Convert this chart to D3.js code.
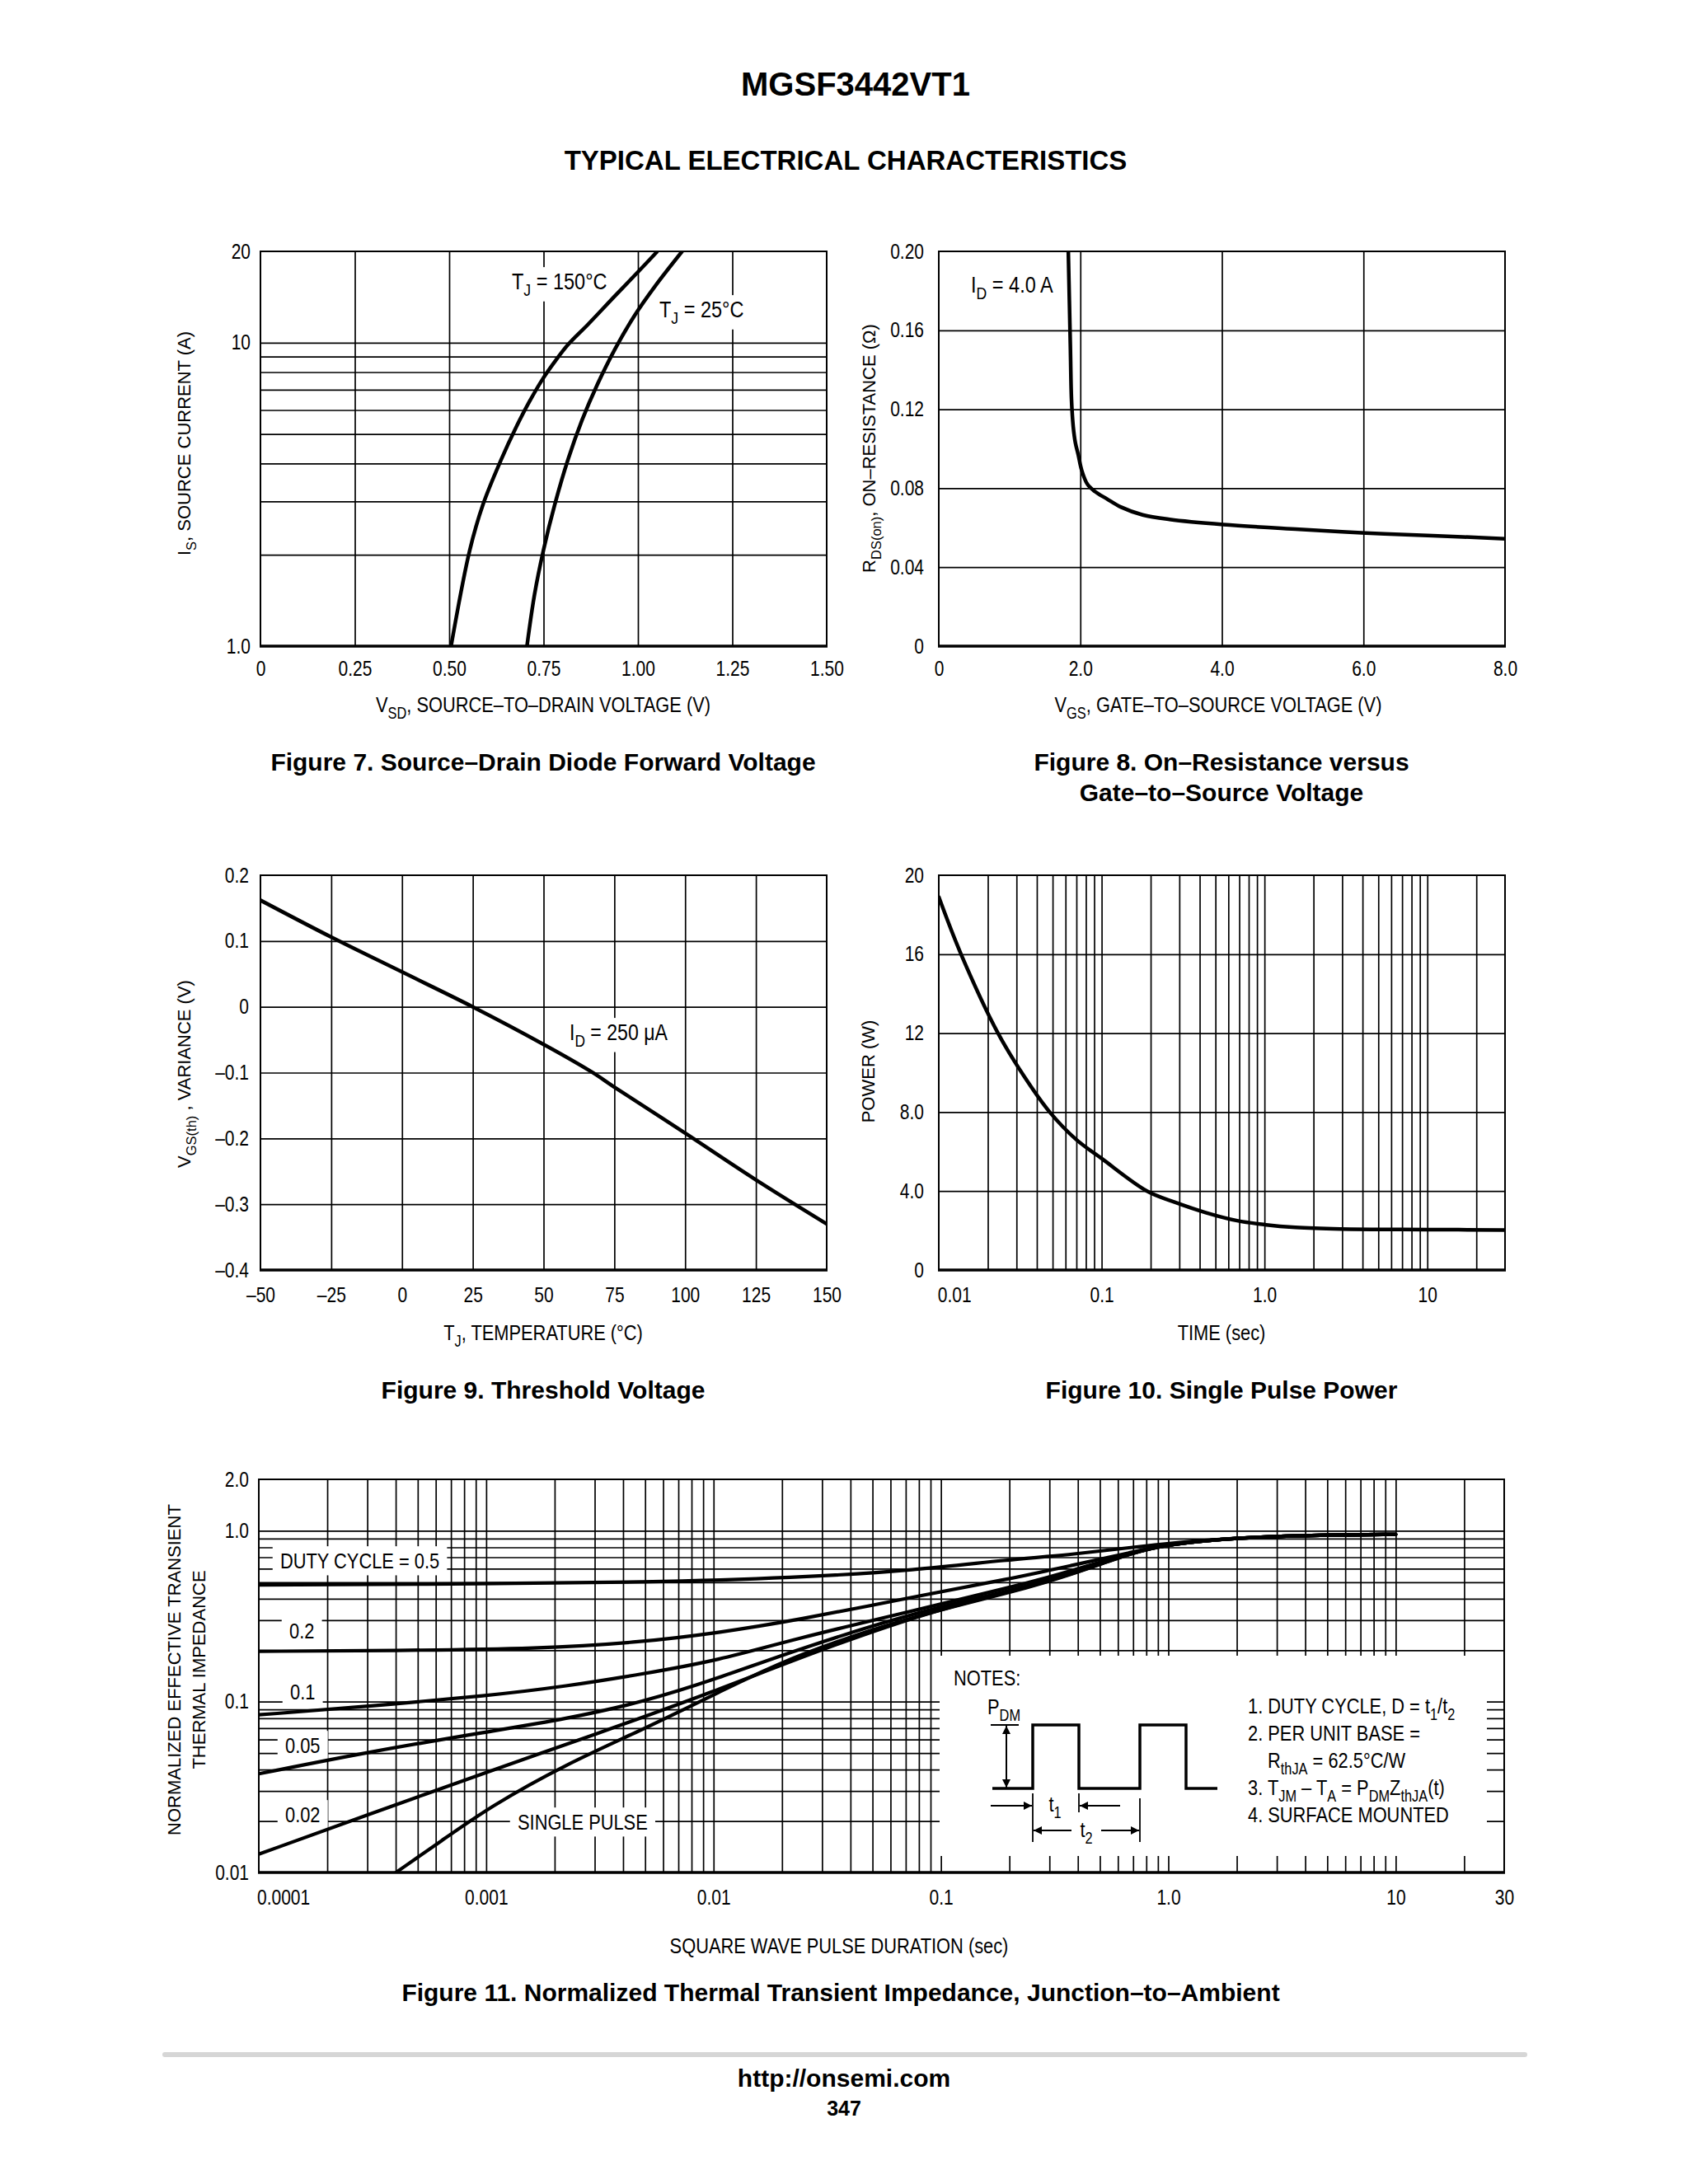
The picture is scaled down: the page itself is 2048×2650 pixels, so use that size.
<!DOCTYPE html>
<html>
<head>
<meta charset="utf-8">
<script src="https://cdn.jsdelivr.net/npm/d3@7"></script>
<style>
  body { margin: 0; background: #fff; }
  svg { display: block; }
</style>
</head>
<body>
<svg id="page" width="2048" height="2650"><defs></defs></svg>
<script>
// ---- Figure 7: source-drain diode forward voltage ----
const fig7Volts150 = [0.505, 0.554, 0.590, 0.637, 0.679, 0.712, 0.747, 0.780, 0.815, 0.868, 0.940, 1.000, 1.050];
const fig7Amps150  = [1.0, 2.06, 2.94, 4.10, 5.32, 6.38, 7.57, 8.67, 9.86, 11.5, 14.3, 17.1, 19.9];
const fig7Volts25  = [0.706, 0.726, 0.750, 0.780, 0.815, 0.852, 0.892, 0.940, 0.993, 1.046, 1.117];
const fig7Amps25   = [1.0, 1.48, 2.08, 2.94, 4.13, 5.56, 7.26, 9.57, 12.4, 15.4, 20.0];
const fig7XTicks = [0, 0.25, 0.5, 0.75, 1.0, 1.25, 1.5];
const fig7XLabels = ["0", "0.25", "0.50", "0.75", "1.00", "1.25", "1.50"];
const fig7YTicks = [1, 10, 20];
const fig7YLabels = ["1.0", "10", "20"];

// ---- Figure 8: on-resistance vs gate-source voltage ----
const fig8Vgs = [1.83, 1.845, 1.86, 1.875, 1.90, 1.93, 1.97, 2.02, 2.10, 2.20, 2.38, 2.57, 2.88, 3.26, 4.02, 5.09, 6.03, 6.98, 8.0];
const fig8Rds = [0.200, 0.175, 0.150, 0.125, 0.111, 0.103, 0.097, 0.089, 0.082, 0.0785, 0.0745, 0.0705, 0.0665, 0.0642, 0.0616, 0.0592, 0.0573, 0.0560, 0.0544];
const fig8XTicks = [0, 2, 4, 6, 8];
const fig8XLabels = ["0", "2.0", "4.0", "6.0", "8.0"];
const fig8YTicks = [0, 0.04, 0.08, 0.12, 0.16, 0.20];
const fig8YLabels = ["0", "0.04", "0.08", "0.12", "0.16", "0.20"];

// ---- Figure 9: threshold voltage variance ----
const fig9Temp = [-50, -25, 0, 25, 50, 67, 75, 100, 125, 150];
const fig9Var  = [0.162, 0.106, 0.053, 0.0, -0.057, -0.099, -0.122, -0.192, -0.263, -0.330];
const fig9XTicks = [-50, -25, 0, 25, 50, 75, 100, 125, 150];
const fig9XLabels = ["–50", "–25", "0", "25", "50", "75", "100", "125", "150"];
const fig9YTicks = [-0.4, -0.3, -0.2, -0.1, 0, 0.1, 0.2];
const fig9YLabels = ["–0.4", "–0.3", "–0.2", "–0.1", "0", "0.1", "0.2"];

// ---- Figure 10: single pulse power ----
const fig10Time  = [0.01, 0.0137, 0.0231, 0.0335, 0.048, 0.07, 0.1, 0.19, 0.283, 0.44, 0.68, 1.0, 1.55, 2.92, 10, 30];
const fig10Power = [18.9, 16.0, 12.0, 9.8, 8.0, 6.6, 5.65, 4.0, 3.43, 2.9, 2.5, 2.3, 2.16, 2.08, 2.05, 2.03];
const fig10XTicks = [0.01, 0.1, 1, 10];
const fig10XLabels = ["0.01", "0.1", "1.0", "10"];
const fig10YTicks = [0, 4, 8, 12, 16, 20];
const fig10YLabels = ["0", "4.0", "8.0", "12", "16", "20"];

// ---- Figure 11: normalized thermal transient impedance ----
const fig11TimeD50 = [1e-4, 1.04e-3, 4.86e-3, 0.0228, 0.0785, 0.197, 0.372, 0.869, 2.03, 4.74, 10];
const fig11ZD50    = [0.482, 0.489, 0.499, 0.530, 0.588, 0.679, 0.722, 0.834, 0.913, 0.944, 0.952];
const fig11TimeD20 = [1e-4, 3.91e-4, 1.73e-3, 4.86e-3, 0.0105, 0.0228, 0.0785, 0.197, 0.372, 0.703, 1.0, 2.03, 4.74, 10];
const fig11ZD20    = [0.197, 0.199, 0.204, 0.223, 0.253, 0.298, 0.414, 0.52, 0.625, 0.753, 0.835, 0.913, 0.944, 0.952];
const fig11TimeD10 = [1e-4, 3.06e-4, 1.04e-3, 2.24e-3, 4.86e-3, 0.0105, 0.0228, 0.0785, 0.197, 0.372, 0.703, 1.0, 2.03, 4.74, 10];
const fig11ZD10    = [0.0837, 0.0939, 0.1086, 0.1229, 0.145, 0.1743, 0.233, 0.345, 0.462, 0.58, 0.75, 0.835, 0.913, 0.944, 0.952];
const fig11TimeD05 = [1e-4, 3.06e-4, 1.04e-3, 2.24e-3, 4.86e-3, 0.0105, 0.0228, 0.0785, 0.197, 0.372, 0.703, 1.0, 2.03, 4.74, 10];
const fig11ZD05    = [0.0378, 0.0509, 0.067, 0.0792, 0.099, 0.137, 0.2, 0.336, 0.44, 0.56, 0.75, 0.835, 0.913, 0.944, 0.952];
const fig11TimeD02 = [1e-4, 3e-4, 1e-3, 3e-3, 0.01, 0.03, 0.1, 0.197, 0.372, 0.703, 1.0, 2.03, 4.74, 10];
const fig11ZD02    = [0.0128, 0.0217, 0.0386, 0.0641, 0.114, 0.204, 0.352, 0.435, 0.552, 0.75, 0.835, 0.913, 0.944, 0.952];
const fig11TimeSingle = [4.01e-4, 6.35e-4, 1.04e-3, 2.24e-3, 4.86e-3, 0.0105, 0.0228, 0.0785, 0.197, 0.372, 0.703, 1.0, 2.03, 4.74, 10];
const fig11ZSingle    = [0.0100, 0.0153, 0.0243, 0.043, 0.0684, 0.113, 0.188, 0.321, 0.43, 0.55, 0.75, 0.835, 0.913, 0.944, 0.952];
const fig11XTicks = [1e-4, 1e-3, 0.01, 0.1, 1, 10, 30];
const fig11XLabels = ["0.0001", "0.001", "0.01", "0.1", "1.0", "10", "30"];
const fig11YTicks = [0.01, 0.1, 1, 2];
const fig11YLabels = ["0.01", "0.1", "1.0", "2.0"];

const NARROW = '"Liberation Sans Narrow", "Arial Narrow", "Liberation Sans", Arial, sans-serif';
const WIDE = '"Liberation Sans", Arial, Helvetica, sans-serif';
const SQ = 0.84;   // horizontal squeeze to imitate the condensed face

const svg = d3.select("#page");
const defs = svg.select("defs");

defs.append("marker").attr("id", "arrow")
  .attr("viewBox", "0 0 10 10").attr("refX", 10).attr("refY", 5)
  .attr("markerWidth", 15).attr("markerHeight", 10).attr("markerUnits", "userSpaceOnUse")
  .attr("orient", "auto-start-reverse")
  .append("path").attr("d", "M0,0 L10,5 L0,10 z").attr("fill", "#000");

// grid values 2..9 x 10^n between two edges (edges excluded)
function logGrid(lo, hi) {
  var v = [];
  for (var e = Math.floor(Math.log10(lo)); e <= Math.ceil(Math.log10(hi)); e++) {
    for (var k = 1; k <= 9; k++) {
      var val = +(k * Math.pow(10, e)).toPrecision(6);
      if (val > lo * 1.0001 && val < hi * 0.9999) v.push(val);
    }
  }
  return v;
}

// text with subscripts, parts like ["V", ["SD"], ", ..."]
function rich(parent, parts, o) {
  var font = o.font || NARROW;
  var t = parent.append("text")
    .attr("text-anchor", o.anchor || "start")
    .attr("font-family", font)
    .attr("font-size", o.size)
    .attr("font-weight", o.weight || "normal")
    .attr("fill", "#000");
  if (o.rotate) {
    t.attr("x", o.x).attr("y", o.y).attr("transform", "rotate(-90 " + o.x + " " + o.y + ")");
  } else if (font === NARROW) {
    t.attr("x", 0).attr("y", 0).attr("transform", "translate(" + o.x + "," + o.y + ") scale(" + SQ + ",1)");
  } else {
    t.attr("x", o.x).attr("y", o.y);
  }
  var shift = 0;
  parts.forEach(function(p) {
    var isSub = Array.isArray(p);
    var target = isSub ? o.size * 0.3 : 0;
    t.append("tspan")
      .attr("dy", target - shift)
      .attr("font-size", isSub ? o.size * 0.75 : o.size)
      .text(isSub ? p[0] : p);
    shift = target;
  });
  return t;
}

function whiteBehind(parent, t, px, py) {
  var b = t.node().getBBox();
  parent.insert("rect", function() { return t.node(); })
    .attr("x", b.x - px).attr("y", b.y - py)
    .attr("width", b.width + 2 * px).attr("height", b.height + 2 * py)
    .attr("transform", t.attr("transform"))
    .attr("fill", "#fff");
}

function panel(c) {
  var g = svg.append("g");
  var x = (c.xLog ? d3.scaleLog() : d3.scaleLinear()).domain(c.xDomain).range([c.left, c.right]);
  var y = (c.yLog ? d3.scaleLog() : d3.scaleLinear()).domain(c.yDomain).range([c.bottom, c.top]);
  var w = c.right - c.left, h = c.bottom - c.top;

  function gridStyle(a) {
    a.select(".domain").remove();
    a.selectAll("line").attr("stroke", "#000").attr("stroke-width", 1.7);
  }
  g.append("g").attr("transform", "translate(0," + c.bottom + ")")
    .call(d3.axisBottom(x).tickValues(c.xGrid).tickSize(-h).tickFormat(""))
    .call(gridStyle);
  g.append("g").attr("transform", "translate(" + c.left + ",0)")
    .call(d3.axisLeft(y).tickValues(c.yGrid).tickSize(-w).tickFormat(""))
    .call(gridStyle);

  var xa = g.append("g").attr("transform", "translate(0," + c.bottom + ")")
    .call(d3.axisBottom(x).tickValues(c.xTicks).tickSize(0).tickPadding(c.xPad)
      .tickFormat(function(d, i) { return c.xLabels[i]; }));
  var ya = g.append("g").attr("transform", "translate(" + c.left + ",0)")
    .call(d3.axisLeft(y).tickValues(c.yTicks).tickSize(0).tickPadding(c.yPad)
      .tickFormat(function(d, i) { return c.yLabels[i]; }));
  [xa, ya].forEach(function(a) {
    a.attr("font-family", NARROW).attr("font-size", 25);
    a.select(".domain").remove();
    a.selectAll(".tick line").remove();
    a.selectAll("text").attr("fill", "#000").attr("transform", "scale(" + SQ + ",1)");
  });
  ya.selectAll("text").attr("x", -c.yPad / SQ);

  var clipId = "clip" + c.id;
  defs.append("clipPath").attr("id", clipId)
    .append("rect").attr("x", c.left).attr("y", c.top).attr("width", w).attr("height", h);

  var labels = g.append("g");
  var plot = g.append("g").attr("clip-path", "url(#" + clipId + ")");
  var frame = g.append("g");
  frame.append("rect").attr("x", c.left).attr("y", c.top).attr("width", w).attr("height", h)
    .attr("fill", "none").attr("stroke", "#000").attr("stroke-width", 2);
  frame.append("line").attr("x1", c.left - 1).attr("x2", c.right + 1)
    .attr("y1", c.bottom).attr("y2", c.bottom)
    .attr("stroke", "#000").attr("stroke-width", 3.5);

  return { g: g, x: x, y: y, xa: xa, labels: labels, plot: plot };
}

function curve(p, xs, ys, width, shape) {
  p.plot.append("path")
    .datum(d3.zip(xs, ys))
    .attr("fill", "none").attr("stroke", "#000")
    .attr("stroke-width", width || 4.5)
    .attr("stroke-linejoin", "round").attr("stroke-linecap", "round")
    .attr("d", d3.line()
      .x(function(d) { return p.x(d[0]); })
      .y(function(d) { return p.y(d[1]); })
      .curve(shape || d3.curveCatmullRom.alpha(0.5)));
}

// ---------- page header ----------
svg.append("text").attr("x", 1038).attr("y", 116).attr("text-anchor", "middle")
  .attr("font-family", WIDE).attr("font-weight", "bold").attr("font-size", 40).text("MGSF3442VT1");
svg.append("text").attr("x", 1026).attr("y", 206).attr("text-anchor", "middle")
  .attr("font-family", WIDE).attr("font-weight", "bold").attr("font-size", 33).text("TYPICAL ELECTRICAL CHARACTERISTICS");

const L = { left: 316, right: 1003 }, R = { left: 1139, right: 1826 };
const ROW1 = { top: 305, bottom: 784 }, ROW2 = { top: 1062, bottom: 1541 };

function caption(x, y, s) {
  svg.append("text").attr("x", x).attr("y", y).attr("text-anchor", "middle")
    .attr("font-family", WIDE).attr("font-weight", "bold").attr("font-size", 30).text(s);
}

// ---------- Figure 7 ----------
const p7 = panel({
  id: 7, left: L.left, right: L.right, top: ROW1.top, bottom: ROW1.bottom,
  xDomain: [0, 1.5], yLog: true, yDomain: [1, 20],
  xGrid: [0.25, 0.5, 0.75, 1.0, 1.25], yGrid: logGrid(1, 20).filter(function(v) { return v <= 10; }),
  xTicks: fig7XTicks, xLabels: fig7XLabels, yTicks: fig7YTicks, yLabels: fig7YLabels,
  xPad: 18, yPad: 12
});
var t150 = rich(p7.labels, ["T", ["J"], " = 150°C"], { x: 621, y: 351, size: 28 });
whiteBehind(p7.labels, t150, 5, 2);
var t25 = rich(p7.labels, ["T", ["J"], " = 25°C"], { x: 800, y: 385, size: 28 });
whiteBehind(p7.labels, t25, 5, 2);
curve(p7, fig7Volts150, fig7Amps150);
curve(p7, fig7Volts25, fig7Amps25);
rich(svg, ["V", ["SD"], ", SOURCE–TO–DRAIN VOLTAGE (V)"], { x: 659, y: 864, size: 26, anchor: "middle" });
rich(svg, ["I", ["S"], ", SOURCE CURRENT (A)"], { x: 231, y: 538, size: 22, font: WIDE, anchor: "middle", rotate: true });
caption(659, 935, "Figure 7. Source–Drain Diode Forward Voltage");

// ---------- Figure 8 ----------
const p8 = panel({
  id: 8, left: R.left, right: R.right, top: ROW1.top, bottom: ROW1.bottom,
  xDomain: [0, 8], yDomain: [0, 0.2],
  xGrid: [2, 4, 6], yGrid: [0.04, 0.08, 0.12, 0.16],
  xTicks: fig8XTicks, xLabels: fig8XLabels, yTicks: fig8YTicks, yLabels: fig8YLabels,
  xPad: 18, yPad: 18
});
rich(p8.labels, ["I", ["D"], " = 4.0 A"], { x: 1178, y: 355, size: 28 });
curve(p8, fig8Vgs, fig8Rds);
rich(svg, ["V", ["GS"], ", GATE–TO–SOURCE VOLTAGE (V)"], { x: 1478, y: 864, size: 26, anchor: "middle" });
rich(svg, ["R", ["DS(on)"], ", ON–RESISTANCE (Ω)"], { x: 1062, y: 544, size: 22, font: WIDE, anchor: "middle", rotate: true });
caption(1482, 935, "Figure 8. On–Resistance versus");
caption(1482, 972, "Gate–to–Source Voltage");

// ---------- Figure 9 ----------
const p9 = panel({
  id: 9, left: L.left, right: L.right, top: ROW2.top, bottom: ROW2.bottom,
  xDomain: [-50, 150], yDomain: [-0.4, 0.2],
  xGrid: [-25, 0, 25, 50, 75, 100, 125], yGrid: [-0.3, -0.2, -0.1, 0, 0.1],
  xTicks: fig9XTicks, xLabels: fig9XLabels, yTicks: fig9YTicks, yLabels: fig9YLabels,
  xPad: 21, yPad: 14
});
var tid = rich(p9.labels, ["I", ["D"], " = 250 μA"], { x: 691, y: 1262, size: 27.5 });
whiteBehind(p9.labels, tid, 5, 2);
curve(p9, fig9Temp, fig9Var);
rich(svg, ["T", ["J"], ", TEMPERATURE (°C)"], { x: 659, y: 1626, size: 26, anchor: "middle" });
rich(svg, ["V", ["GS(th)"], " , VARIANCE (V)"], { x: 231, y: 1303, size: 22, font: WIDE, anchor: "middle", rotate: true });
caption(659, 1697, "Figure 9. Threshold Voltage");

// ---------- Figure 10 ----------
const p10 = panel({
  id: 10, left: R.left, right: R.right, top: ROW2.top, bottom: ROW2.bottom,
  xLog: true, xDomain: [0.01, 30], yDomain: [0, 20],
  xGrid: logGrid(0.01, 30), yGrid: [4, 8, 12, 16],
  xTicks: fig10XTicks, xLabels: fig10XLabels, yTicks: fig10YTicks, yLabels: fig10YLabels,
  xPad: 21, yPad: 18
});
p10.xa.selectAll("text").filter(function(d) { return d === 0.01; })
  .attr("text-anchor", "start").attr("x", -2);
curve(p10, fig10Time, fig10Power);
rich(svg, ["TIME (sec)"], { x: 1482, y: 1626, size: 26, anchor: "middle" });
rich(svg, ["POWER (W)"], { x: 1061, y: 1300, size: 22, font: WIDE, anchor: "middle", rotate: true });
caption(1482, 1697, "Figure 10. Single Pulse Power");

// ---------- Figure 11 ----------
const p11 = panel({
  id: 11, left: 314, right: 1825, top: 1795, bottom: 2272,
  xLog: true, xDomain: [1e-4, 30], yLog: true, yDomain: [0.01, 2],
  xGrid: logGrid(1e-4, 30), yGrid: logGrid(0.01, 2),
  xTicks: fig11XTicks, xLabels: fig11XLabels, yTicks: fig11YTicks, yLabels: fig11YLabels,
  xPad: 21, yPad: 12
});
p11.xa.selectAll("text").filter(function(d) { return d === 1e-4; })
  .attr("text-anchor", "start").attr("x", -3);

[
  { s: "DUTY CYCLE = 0.5", x: 340, y: 1903 },
  { s: "0.2", x: 351, y: 1988 },
  { s: "0.1", x: 352, y: 2062 },
  { s: "0.05", x: 346, y: 2127 },
  { s: "0.02", x: 346, y: 2211 },
  { s: "SINGLE PULSE", x: 628, y: 2220 }
].forEach(function(l) {
  var t = rich(p11.labels, [l.s], { x: l.x, y: l.y, size: 26 });
  whiteBehind(p11.labels, t, 11, 3);
});

// notes panel
const nb = { x: 1140, y: 2009, w: 664, h: 243 };
const notes = p11.labels.append("g").attr("transform", "translate(" + nb.x + "," + nb.y + ")");
notes.append("rect").attr("width", nb.w).attr("height", nb.h).attr("fill", "#fff");
rich(notes, ["NOTES:"], { x: 17, y: 36, size: 26 });
rich(notes, ["P", ["DM"]], { x: 58, y: 71, size: 26 });
notes.append("line").attr("x1", 62).attr("x2", 96).attr("y1", 84).attr("y2", 84)
  .attr("stroke", "#000").attr("stroke-width", 2);
notes.append("line").attr("x1", 81).attr("x2", 81).attr("y1", 85).attr("y2", 160)
  .attr("stroke", "#000").attr("stroke-width", 2)
  .attr("marker-start", "url(#arrow)").attr("marker-end", "url(#arrow)");
const pulse = [[64, 161], [113, 161], [113, 84], [169, 84], [169, 161], [243, 161], [243, 84], [299, 84], [299, 161], [337, 161]];
notes.append("path").attr("d", d3.line()(pulse)).attr("fill", "none")
  .attr("stroke", "#000").attr("stroke-width", 3.5).attr("stroke-linejoin", "miter");
[[113, 167, 226], [169, 167, 190], [243, 173, 226]].forEach(function(e) {
  notes.append("line").attr("x1", e[0]).attr("x2", e[0]).attr("y1", e[1]).attr("y2", e[2])
    .attr("stroke", "#000").attr("stroke-width", 1.8);
});
[[62, 182, 112, 182], [219, 182, 170, 182], [160, 212, 114, 212], [196, 212, 242, 212]].forEach(function(a) {
  notes.append("line").attr("x1", a[0]).attr("y1", a[1]).attr("x2", a[2]).attr("y2", a[3])
    .attr("stroke", "#000").attr("stroke-width", 2).attr("marker-end", "url(#arrow)");
});
rich(notes, ["t", ["1"]], { x: 140, y: 189, size: 26, anchor: "middle" });
rich(notes, ["t", ["2"]], { x: 178, y: 220, size: 26, anchor: "middle" });
[
  { p: ["1. DUTY CYCLE, D = t", ["1"], "/t", ["2"]], x: 374, y: 70 },
  { p: ["2. PER UNIT BASE ="], x: 374, y: 103 },
  { p: ["R", ["thJA"], " = 62.5°C/W"], x: 398, y: 136 },
  { p: ["3. T", ["JM"], " – T", ["A"], " = P", ["DM"], "Z", ["thJA"], "(t)"], x: 374, y: 169 },
  { p: ["4. SURFACE MOUNTED"], x: 374, y: 202 }
].forEach(function(l) { rich(notes, l.p, { x: l.x, y: l.y, size: 26 }); });

const smooth = d3.curveBasis;
curve(p11, fig11TimeD50, fig11ZD50, 4.2, smooth);
curve(p11, fig11TimeD20, fig11ZD20, 4.2, smooth);
curve(p11, fig11TimeD10, fig11ZD10, 4.2, smooth);
curve(p11, fig11TimeD05, fig11ZD05, 4.2, smooth);
curve(p11, fig11TimeD02, fig11ZD02, 4.2, smooth);
curve(p11, fig11TimeSingle, fig11ZSingle, 4.2, smooth);

rich(svg, ["SQUARE WAVE PULSE DURATION (sec)"], { x: 1018, y: 2370, size: 26, anchor: "middle" });
rich(svg, ["NORMALIZED EFFECTIVE TRANSIENT"], { x: 219, y: 2026, size: 22, font: WIDE, anchor: "middle", rotate: true });
rich(svg, ["THERMAL IMPEDANCE"], { x: 249, y: 2026, size: 22, font: WIDE, anchor: "middle", rotate: true });
caption(1020, 2428, "Figure 11. Normalized Thermal Transient Impedance, Junction–to–Ambient");

// ---------- footer ----------
svg.append("line").attr("x1", 200).attr("x2", 1850).attr("y1", 2493).attr("y2", 2493)
  .attr("stroke", "#d6d6d6").attr("stroke-width", 6).attr("stroke-linecap", "round");
svg.append("text").attr("x", 1024).attr("y", 2532).attr("text-anchor", "middle")
  .attr("font-family", WIDE).attr("font-weight", "bold").attr("font-size", 30).text("http://onsemi.com");
svg.append("text").attr("x", 1024).attr("y", 2567).attr("text-anchor", "middle")
  .attr("font-family", WIDE).attr("font-weight", "bold").attr("font-size", 25).text("347");
</script>
</body>
</html>
